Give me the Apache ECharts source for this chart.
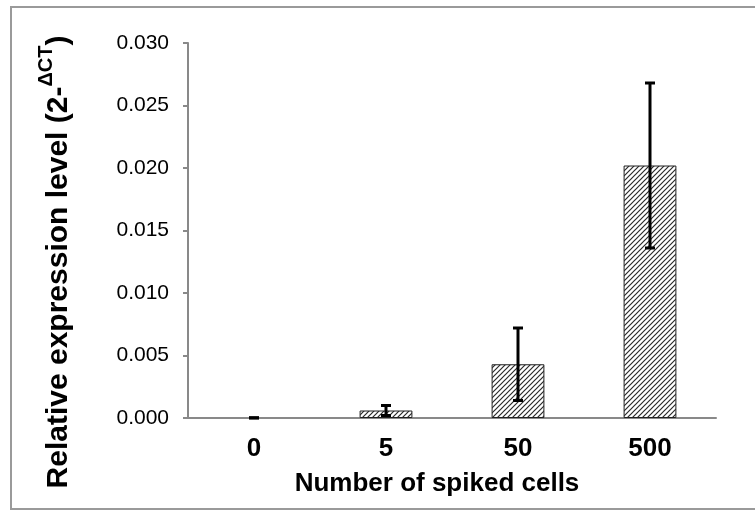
<!DOCTYPE html>
<html lang="en">
<head>
  <meta charset="UTF-8">
  <title>Relative expression level</title>
  <script src="https://cdn.jsdelivr.net/npm/echarts@6/dist/echarts.min.js"></script>
  <style>
    html, body { margin: 0; padding: 0; background: #fff; }
    #chart { width: 755px; height: 511px; }
  </style>
</head>
<body>
<div id="chart"></div>
<script>
  // 数据
  var categories = ['0', '5', '50', '500'];
  var means = [0.00001, 0.0006, 0.0043, 0.0202];
  var errors = [0.00001, 0.0004, 0.0029, 0.0066];
  var yTicks = { min: 0, max: 0.03, interval: 0.005 };

  // 斜线填充
  function hatch() {
    var s = 5;
    var c = document.createElement('canvas');
    c.width = s; c.height = s;
    var ctx = c.getContext('2d');
    ctx.fillStyle = '#fff';
    ctx.fillRect(0, 0, s, s);
    ctx.strokeStyle = '#2a2a2a';
    ctx.lineWidth = 1.2;
    ctx.beginPath();
    ctx.moveTo(0, s); ctx.lineTo(s, 0);
    ctx.moveTo(-1, 1); ctx.lineTo(1, -1);
    ctx.moveTo(s - 1, s + 1); ctx.lineTo(s + 1, s - 1);
    ctx.stroke();
    return c;
  }

  var barData = means.map(function (v) {
    return v < 0.0001 ? { value: v, itemStyle: { borderWidth: 0, opacity: 0 } } : v;
  });
  var errData = means.map(function (v, i) {
    return [i, v - errors[i], v + errors[i]];
  });

  var chart = echarts.init(document.getElementById('chart'));
  chart.setOption({
    animation: false,
    grid: { left: 188, top: 43, right: 39, bottom: 93 },
    xAxis: {
      type: 'category',
      data: categories,
      axisLine: { lineStyle: { color: '#898989', width: 2 } },
      axisTick: { length: 7, lineStyle: { color: '#898989', width: 2 } },
      axisLabel: {
        margin: 18, color: '#000', fontSize: 26, fontWeight: 'bold',
        fontFamily: 'Liberation Sans, Arial, sans-serif'
      }
    },
    yAxis: {
      type: 'value',
      min: yTicks.min, max: yTicks.max, interval: yTicks.interval,
      splitLine: { show: false },
      axisLine: { show: true, lineStyle: { color: '#898989', width: 2 } },
      axisTick: { show: true, inside: false, length: 5, lineStyle: { color: '#898989', width: 2 } },
      axisLabel: {
        margin: 19, color: '#000', fontSize: 21,
        fontFamily: 'Liberation Sans, Arial, sans-serif',
        formatter: function (v) { return v.toFixed(3); }
      }
    },
    graphic: [
      {
        type: 'rect', silent: true, z: -1,
        shape: { x: 11, y: 7, width: 760, height: 502 },
        style: { fill: 'none', stroke: '#9a9a9a', lineWidth: 2 }
      },
      {
        type: 'text', x: 437, y: 484,
        style: {
          text: 'Number of spiked cells', align: 'center', verticalAlign: 'middle',
          font: 'bold 26px "Liberation Sans", Arial, sans-serif', fill: '#000'
        }
      },
      {
        type: 'text', x: 59, y: 262, rotation: Math.PI / 2,
        style: {
          text: '{a|Relative expression level (2-}{b|\u0394CT}{a|)}',
          align: 'center', verticalAlign: 'middle',
          rich: {
            a: { font: 'bold 30px "Liberation Sans", Arial, sans-serif', fill: '#000' },
            b: { font: 'bold 20px "Liberation Sans", Arial, sans-serif', fill: '#000', padding: [0, 0, 26, 0] }
          }
        }
      }
    ],
    series: [
      {
        type: 'bar',
        data: barData,
        barWidth: '40%',
        itemStyle: {
          color: { image: hatch(), repeat: 'repeat' },
          borderColor: '#222',
          borderWidth: 1
        }
      },
      {
        type: 'custom',
        data: errData,
        z: 5,
        renderItem: function (params, api) {
          var i = api.value(0);
          var lo = api.coord([i, api.value(1)]);
          var hi = api.coord([i, api.value(2)]);
          var w = 5;
          var st = { stroke: '#000', lineWidth: 3 };
          return {
            type: 'group',
            children: [
              { type: 'line', shape: { x1: hi[0], y1: hi[1], x2: lo[0], y2: lo[1] }, style: st },
              { type: 'line', shape: { x1: hi[0] - w, y1: hi[1], x2: hi[0] + w, y2: hi[1] }, style: st },
              { type: 'line', shape: { x1: lo[0] - w, y1: lo[1], x2: lo[0] + w, y2: lo[1] }, style: st }
            ]
          };
        }
      }
    ]
  });
</script>
</body>
</html>
